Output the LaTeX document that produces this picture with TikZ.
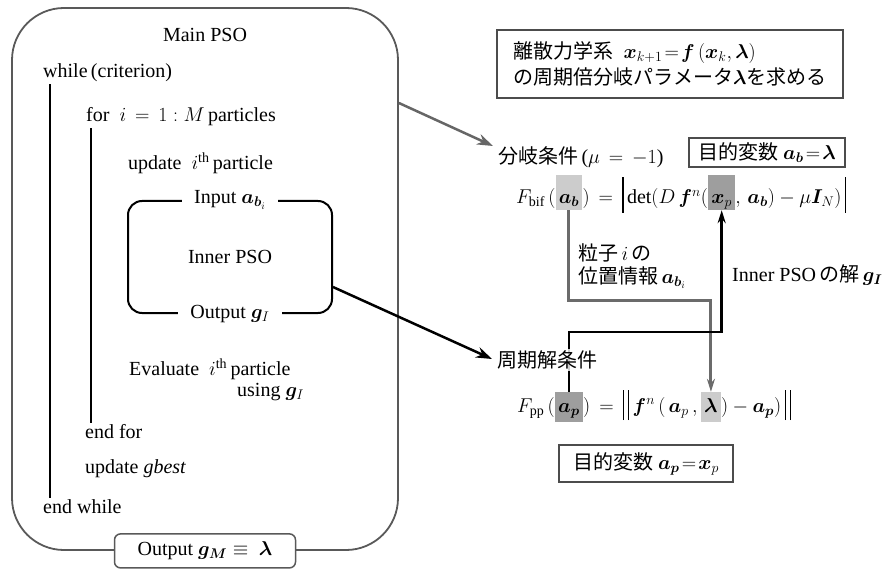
\RequirePackage{fix-cm}
\documentclass[tikz,border=0pt]{standalone}
\usepackage{amsmath}
\usepackage{bm}
\usepackage{fontspec}
\setmainfont{Liberation Serif}
\newfontfamily\jp{Noto Sans CJK JP}
\usetikzlibrary{arrows.meta}
\definecolor{framegray}{gray}{0.35}
\definecolor{arrowgray}{gray}{0.40}
\definecolor{linegray}{gray}{0.42}
\definecolor{boxgray}{gray}{0.30}
\definecolor{hlA}{gray}{0.80}
\definecolor{hlB}{gray}{0.62}
\newcommand\myabsbar{\rule[-9pt]{1.6pt}{36pt}}
\newcommand\mynormbar{\rule[-8pt]{1.6pt}{30pt}\hspace{3.5pt}\rule[-8pt]{1.6pt}{30pt}}
\begin{document}
\begin{tikzpicture}[x=1pt,y=-1pt,
  every node/.style={font=\fontsize{20}{24}\selectfont, inner sep=0pt},
  txt/.style={anchor=west, inner ysep=2pt},
  piece/.style={anchor=base west},
  hlite/.style={anchor=base west, inner xsep=3pt, inner ysep=0pt},
  thinbox/.style={draw=boxgray, line width=1.2pt},
  loopline/.style={line width=1.2pt, black},
  bigarrow/.style={line width=2.5pt, -{Stealth[length=16pt,width=11pt]}},
  conn/.style={line width=2.8pt, -{Stealth[length=13pt,width=8pt]}},
  label/.style={fill=white, inner xsep=12pt, inner ysep=3pt}
]
\useasboundingbox (0,0) rectangle (882,569);

% ---------------- Main PSO ----------------
\node[draw=framegray, line width=1.8pt, rounded corners=52pt,
      minimum width=386pt, minimum height=542pt] (main) at (205,279) {};
\node (title) at (205,35) {Main PSO};
\node[txt] (while) at (43,73) {while\,(criterion)};
\node[txt] (for) at (86,117) {for \ $i\,=\,1 : M$\,particles};
\node[txt] (upd) at (128,163) {update \ $i^{\mathrm{th}}$\,particle};
\node[draw, line width=2pt, rounded corners=14pt,
      minimum width=204pt, minimum height=112pt] (inner) at (230,257) {Inner PSO};
\node[label] (inp) at (inner.north) {Input $\bm{a}_{\bm{b}_i}$};
\node[label] (outI) at (inner.south) {Output $\bm{g}_I$};
\node[txt] (eval) at (129,369) {Evaluate \ $i^{\mathrm{th}}$\,particle};
\node[txt] (using) at (237,392) {using $\bm{g}_I$};
\node[txt] (endfor) at (85,432) {end for};
\node[txt] (gbest) at (85,469) {update \textit{gbest}};
\node[txt] (endwhile) at (43,507) {end while};
\draw[loopline] ([xshift=7pt]while.south west) -- ([xshift=7pt]endwhile.north west);
\draw[loopline] ([xshift=5pt]for.south west) -- ([xshift=6pt]endfor.north west);
\node[draw=framegray, line width=1.5pt, fill=white, rounded corners=6pt,
      minimum width=181pt, minimum height=34pt] (outM) at (main.south)
      {Output $\bm{g}_{\bm{M}} \equiv \ \bm{\lambda}$};

% ---------------- right side ----------------
\node[thinbox, font=\fontsize{20}{26}\selectfont, align=left,
      minimum width=346pt, minimum height=68pt] (sys) at (670,64)
  {{\jp 離散力学系}\ \ $\bm{x}_{k+1}\!=\!\bm{f}\,(\bm{x}_k,\bm{\lambda})$\\
   {\jp の周期倍分岐パラメータ}$\bm{\lambda}${\jp を求める}};

\node[txt] (bif) at (498,157) {{\jp 分岐条件}\,($\mu\,=\,-1$)};
\node[thinbox, minimum width=156pt, minimum height=29pt] (objb) at (767,152.5)
  {{\jp 目的変数}\ $\bm{a}_{\bm{b}}\!=\!\bm{\lambda}$};

% F_bif formula
\node[piece] (fb1) at (516,204) {$F_{\mathrm{bif}}\,($};
\node[hlite, fill=hlA, text height=29pt, text depth=6pt] (hb) at (fb1.base east) {$\bm{a}_{\bm{b}}$};
\node[piece] (fb2) at (hb.base east) {$)$\hspace{9pt}$=$\hspace{9pt}\myabsbar\,$\det(D\,\bm{f}^n($};
\node[hlite, fill=hlB, text height=29pt, text depth=6pt] (hx) at (fb2.base east) {$\bm{x}_p$};
\node[piece] (fb3) at (hx.base east) {$,\,\bm{a}_{\bm{b}})-\mu\bm{I}_N)$\,\myabsbar};

% F_pp formula
\node[piece] (fp1) at (517,412) {$F_{\mathrm{pp}}\,($};
\node[hlite, fill=hlB, text height=20pt, text depth=10pt] (hp) at (fp1.base east) {$\bm{a}_{\bm{p}}$};
\node[piece] (fp2) at (hp.base east) {$)$\hspace{9pt}$=$\hspace{9pt}\mynormbar\,$\bm{f}^n\,(\,\bm{a}_p\,,$\,};
\node[hlite, fill=hlA, text height=20pt, text depth=10pt] (hl) at (fp2.base east) {$\bm{\lambda}$};
\node[piece] (fp3) at (hl.base east) {$)-\bm{a}_{\bm{p}})$\,\mynormbar};

\node[thinbox, minimum width=174pt, minimum height=37pt] (objp) at (646,463.5)
  {{\jp 目的変数}\ $\bm{a}_{\bm{p}}\!=\!\bm{x}_p$};

% connectors on the right
\coordinate (gy) at (0,300);
\coordinate (by) at (0,332);
\begin{scope}
\draw[line width=3pt, draw=linegray, -{Stealth[length=13pt,width=8pt]}]
  (hb.south) -- (hb.south |- gy) -| (hl.north);
\end{scope}
\draw[conn, draw=black] (hp.north) -- (hp.north |- by) -| (hx.south);
\node[txt] (lab1) at (578,253) {{\jp 粒子}\,$i\,${\jp の}};
\node[txt] (lab2) at (578,278) {{\jp 位置情報}\,$\bm{a}_{\bm{b}_i}$};
\node[txt] (lab3) at (732,275) {Inner PSO\,{\jp の解}\,$\bm{g}_{\bm{I}}$};
\node[txt, fill=white, fill opacity=0.8, text opacity=1] (pp) at (497,360) {{\jp 周期解条件}};

% arrows between the halves
\coordinate (m1) at (0,103);
\coordinate (t1) at (493,146);
\coordinate (m2) at (0,287);
\coordinate (t2) at (492,359);
\draw[bigarrow, arrowgray] (main.east |- m1) -- (t1);
\draw[bigarrow, black] (inner.east |- m2) -- (t2);
\end{tikzpicture}
\end{document}
